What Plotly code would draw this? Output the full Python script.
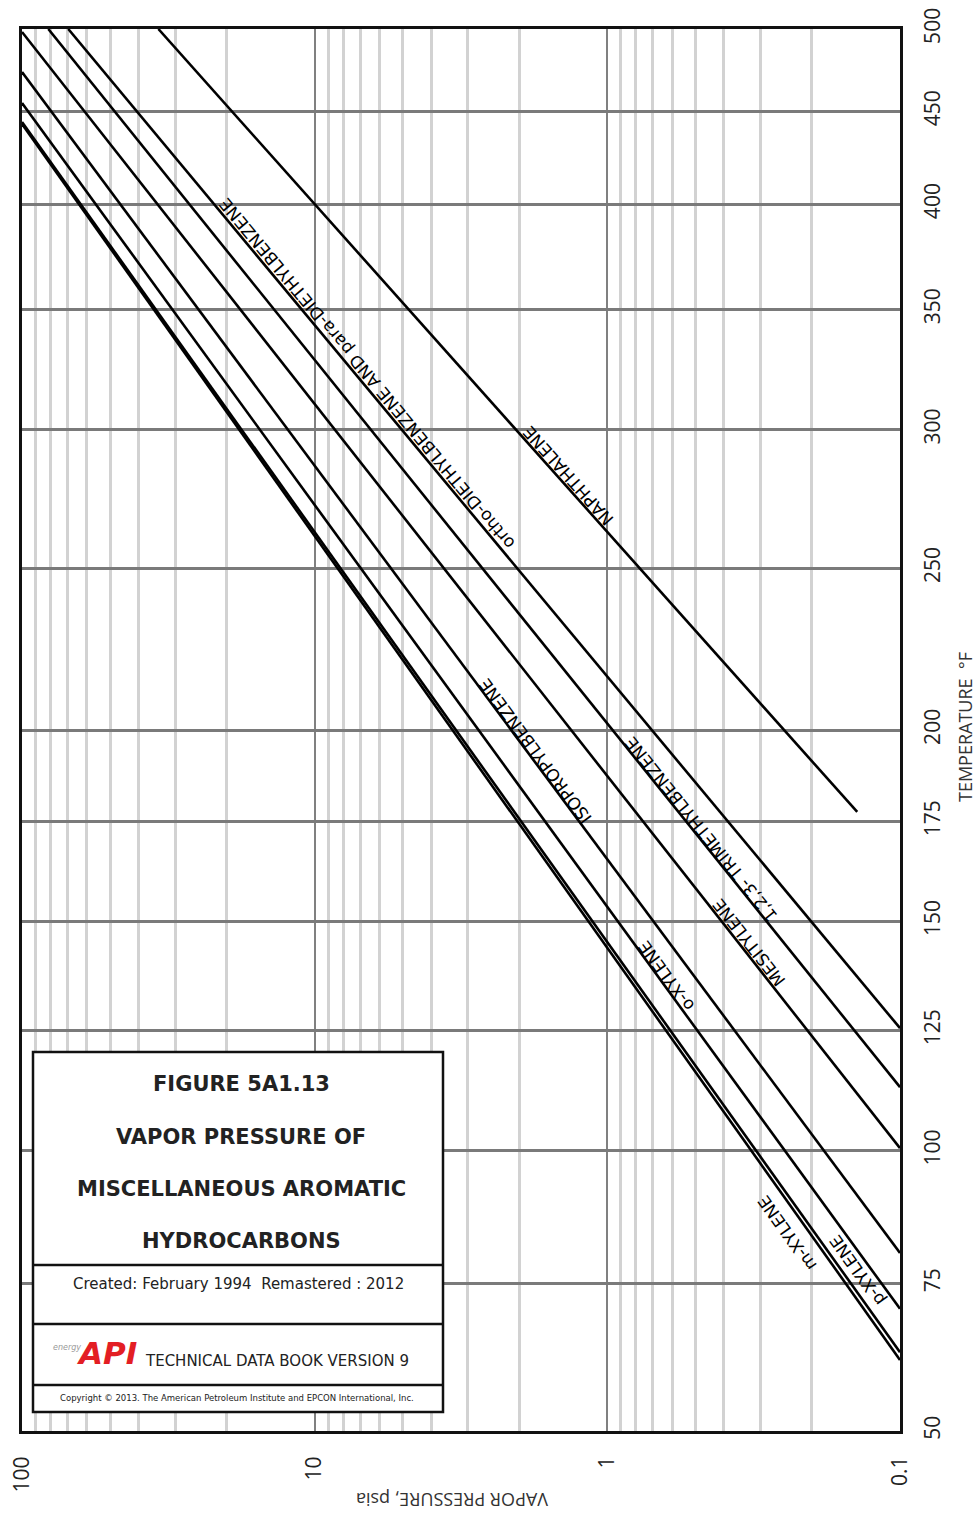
import math
import plotly.graph_objects as go

# ---------------- data ----------------
compounds = ["NAPHTHALENE", "DIETHYLBENZENE", "1,2,3-TRIMETHYLBENZENE", "MESITYLENE",
             "ISOPROPYLBENZENE", "o-XYLENE", "p-XYLENE", "m-XYLENE"]
# two end points of each (straight) line: pressure psia, temperature F
p_start = [34.2, 69.5, 81.3, 100.0, 100.0, 100.0, 100.0, 100.0]
t_start = [500.0, 500.0, 500.0, 498.1, 473.2, 454.9, 444.0, 442.9]
p_end = [0.14, 0.1, 0.1, 0.1, 0.1, 0.1, 0.1, 0.1]
t_end = [177.5, 125.5, 112.9, 100.5, 80.5, 70.5, 63.0, 61.7]

# line labels: text, pressure, temperature of label centre
label_text = ["NAPHTHALENE", "ortho-DIETHYLBENZENE AND para-DIETHYLBENZENE",
              "1,2,3- TRIMETHYLBENZENE", "MESITYLENE", "ISOPROPYLBENZENE",
              "o-XYLENE", "p-XYLENE", "m-XYLENE"]
label_line = [0, 1, 2, 3, 4, 5, 6, 7]
label_p = [1.363, 6.625, 0.4786, 0.328, 1.767, 0.630, 0.140, 0.2432]
label_t = [282.5, 322.3, 173.0, 145.0, 194.1, 137.2, 77.4, 84.2]

temp_ticks = [50, 75, 100, 125, 150, 175, 200, 250, 300, 350, 400, 450, 500]
press_ticks = [100, 10, 1, 0.1]
press_tick_text = ["100", "10", "1", "0.1"]
press_minor = [k * d for d in (0.1, 1, 10) for k in range(2, 10)]

# ---------------- temperature scale: 1/(T+400) ----------------
C = 400.0
T_LO, T_HI = 50.0, 500.0


def tscale(t):
    return 1e4 * (1.0 / (T_LO + C) - 1.0 / (t + C))


Y_MAX = tscale(T_HI)

W, H = 977, 1518
L, R, T, B = 22, 77, 29, 87
PW, PH = W - L - R, H - T - B

fig = go.Figure()
for i, name in enumerate(compounds):
    fig.add_trace(go.Scatter(
        x=[p_start[i], p_end[i]],
        y=[tscale(t_start[i]), tscale(t_end[i])],
        mode="lines", line=dict(color="#000000", width=2.6),
        name=name, showlegend=False, hoverinfo="skip"))

# labels along the lines
for txt, li, p, t in zip(label_text, label_line, label_p, label_t):
    dx = -(math.log10(p_end[li]) - math.log10(p_start[li])) * PW / 3.0
    dy = -(tscale(t_end[li]) - tscale(t_start[li])) * PH / Y_MAX
    ang = math.degrees(math.atan2(dy, dx)) - 180
    fig.add_annotation(x=math.log10(p), y=tscale(t), xref="x", yref="y",
                       text=txt, showarrow=False, textangle=ang,
                       font=dict(family="DejaVu Sans", size=17, color="#000000"),
                       xanchor="center", yanchor="middle")

fig.update_xaxes(type="log", range=[2, -1], autorange=False, automargin=False,
                 tickvals=press_ticks, ticktext=press_tick_text, tickangle=-90,
                 ticks="", ticklabelstandoff=14,
                 tickfont=dict(family="Open Sans", size=21, color="#222"),
                 showgrid=True, gridcolor="#808080", gridwidth=2,
                 minor=dict(tickvals=press_minor, showgrid=True,
                            gridcolor="#d2d2d2", gridwidth=2.5, ticklen=0),
                 showline=True, linecolor="#111", linewidth=3, mirror=True,
                 zeroline=False)
fig.update_yaxes(range=[0, Y_MAX], autorange=False, side="right", automargin=False,
                 tickvals=[tscale(t) for t in temp_ticks],
                 ticktext=[str(t) for t in temp_ticks], tickangle=-90,
                 ticks="", ticklabelstandoff=12,
                 tickfont=dict(family="Open Sans", size=21, color="#222"),
                 showgrid=True, gridcolor="#7a7a7a", gridwidth=2.5,
                 showline=True, linecolor="#111", linewidth=3, mirror=True,
                 zeroline=False)


def px(x):
    return (x - L) / PW


def py(y):
    return (H - B - y) / PH


# axis titles
fig.add_annotation(x=px(965), y=py(727), xref="paper", yref="paper",
                   xanchor="center", yanchor="middle",
                   text="TEMPERATURE  °F", textangle=-90, showarrow=False,
                   font=dict(family="Open Sans", size=18, color="#333"))
fig.add_annotation(x=px(452), y=py(1500), xref="paper", yref="paper",
                   xanchor="center", yanchor="middle",
                   text="VAPOR PRESSURE, psia", textangle=180, showarrow=False,
                   font=dict(family="Open Sans", size=18, color="#333"))

# title box
fig.add_shape(type="rect", xref="paper", yref="paper", x0=px(33), x1=px(443),
              y0=py(1412), y1=py(1052), fillcolor="white",
              line=dict(color="#111", width=2.5), layer="above")
for yy in (1265, 1324, 1385):
    fig.add_shape(type="line", xref="paper", yref="paper", x0=px(33), x1=px(443),
                  y0=py(yy), y1=py(yy), line=dict(color="#111", width=2.5), layer="above")


def box_text(txt, x, y, size, color="#222", family="DejaVu Sans"):
    fig.add_annotation(x=px(x), y=py(y), xref="paper", yref="paper", text=txt,
                       xanchor="center", yanchor="middle", showarrow=False,
                       font=dict(family=family, size=size, color=color))


title_lines = ["FIGURE 5A1.13", "VAPOR PRESSURE OF", "MISCELLANEOUS AROMATIC", "HYDROCARBONS"]
for txt, yy in zip(title_lines, (1084, 1137, 1189, 1241)):
    box_text("<b>" + txt + "</b>", 241, yy, 21)
box_text("Created: February 1994  Remastered : 2012", 238, 1284, 15)
box_text("<b><i>API</i></b>", 106, 1353, 31, color="#e31e24")
box_text("<i>energy</i>", 67, 1347, 8, color="#999")
box_text("TECHNICAL DATA BOOK VERSION 9", 277, 1361, 15)
box_text("Copyright © 2013. The American Petroleum Institute and EPCON International, Inc.",
         237, 1398, 8.5)

fig.update_layout(width=W, height=H, margin=dict(l=L, r=R, t=T, b=B, autoexpand=False),
                  paper_bgcolor="white", plot_bgcolor="white", showlegend=False)

fig.write_html("out.html")
